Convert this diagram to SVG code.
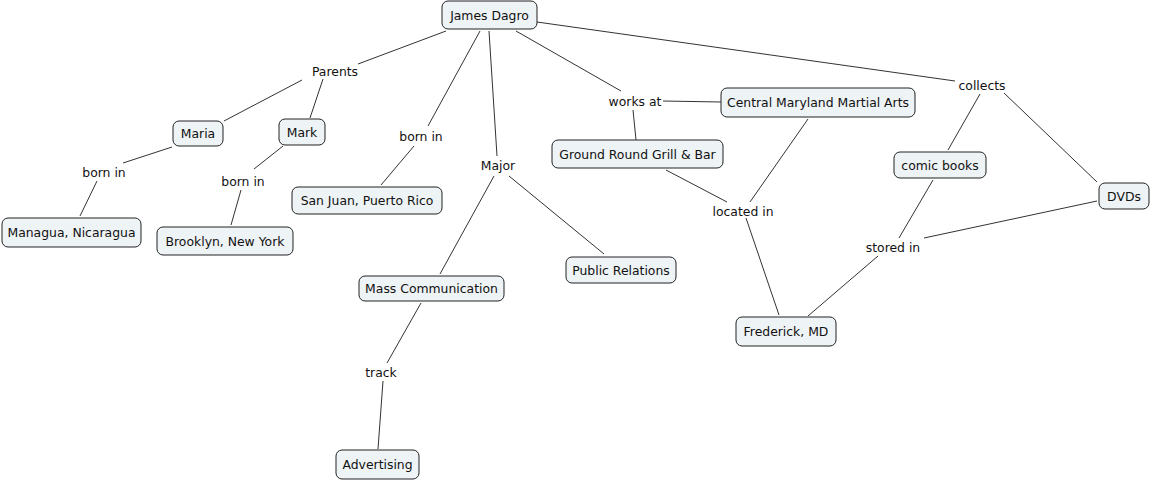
<svg xmlns="http://www.w3.org/2000/svg" width="1151" height="481" viewBox="0 0 1151 481">
<style>
.n rect{fill:#eef3f5;stroke:#222;stroke-width:1}
text{font-family:"DejaVu Sans",Verdana,sans-serif;font-size:12.4px;fill:#111;text-anchor:middle;dominant-baseline:central}
.c line{stroke:#333;stroke-width:1}
</style>
<rect width="1151" height="481" fill="#fff"/>
<g class="c">
<line x1="446" y1="31" x2="358" y2="64"/>
<line x1="302" y1="80" x2="224" y2="121"/>
<line x1="323" y1="79" x2="310" y2="118"/>
<line x1="172" y1="147" x2="123" y2="163"/>
<line x1="97" y1="181" x2="80" y2="216"/>
<line x1="283" y1="146" x2="254" y2="169"/>
<line x1="241" y1="190" x2="231" y2="225"/>
<line x1="480" y1="31" x2="428" y2="126"/>
<line x1="414" y1="146" x2="381" y2="185"/>
<line x1="489" y1="31" x2="497" y2="156"/>
<line x1="494" y1="176" x2="440" y2="274"/>
<line x1="509" y1="176" x2="604" y2="254"/>
<line x1="516" y1="31" x2="621" y2="91"/>
<line x1="633" y1="110" x2="636" y2="140"/>
<line x1="721" y1="102" x2="663" y2="101"/>
<line x1="666" y1="170" x2="727" y2="202"/>
<line x1="808" y1="119" x2="750" y2="202"/>
<line x1="746" y1="218" x2="779" y2="315"/>
<line x1="537" y1="22" x2="955" y2="81"/>
<line x1="980" y1="94" x2="948" y2="150"/>
<line x1="1004" y1="93" x2="1097" y2="182"/>
<line x1="933" y1="180" x2="899" y2="238"/>
<line x1="1097" y1="201" x2="924" y2="238"/>
<line x1="878" y1="256" x2="808" y2="316"/>
<line x1="421" y1="303" x2="387" y2="363"/>
<line x1="383" y1="381" x2="378" y2="449"/>
</g>
<g id="labels">
<text x="335" y="71">Parents</text>
<text x="104" y="172">born in</text>
<text x="243" y="181">born in</text>
<text x="421" y="136">born in</text>
<text x="498" y="165">Major</text>
<text x="635" y="101">works at</text>
<text x="743" y="211">located in</text>
<text x="982" y="85">collects</text>
<text x="893" y="247">stored in</text>
<text x="381" y="372">track</text>
</g>
<g id="james" class="n"><rect x="442" y="1" width="95" height="28" rx="6"/><text x="489.5" y="15">James Dagro</text></g>
<g id="maria" class="n"><rect x="173" y="121" width="50" height="25" rx="6"/><text x="198" y="133.5">Maria</text></g>
<g id="mark" class="n"><rect x="279" y="119" width="46" height="26" rx="6"/><text x="302" y="132">Mark</text></g>
<g id="managua" class="n"><rect x="2" y="218" width="139" height="29" rx="6"/><text x="71.5" y="232.5">Managua, Nicaragua</text></g>
<g id="brooklyn" class="n"><rect x="157" y="227" width="136" height="28" rx="6"/><text x="225" y="241">Brooklyn, New York</text></g>
<g id="sanjuan" class="n"><rect x="292" y="187" width="150" height="27" rx="6"/><text x="367" y="200.5">San Juan, Puerto Rico</text></g>
<g id="masscomm" class="n"><rect x="359" y="276" width="145" height="25" rx="6"/><text x="431.5" y="288.5">Mass Communication</text></g>
<g id="pr" class="n"><rect x="566" y="257" width="110" height="26" rx="6"/><text x="621" y="270">Public Relations</text></g>
<g id="advertising" class="n"><rect x="336" y="450" width="83" height="29" rx="6"/><text x="377.5" y="464.5">Advertising</text></g>
<g id="groundround" class="n"><rect x="552" y="140" width="171" height="28" rx="6"/><text x="637.5" y="154">Ground Round Grill &amp; Bar</text></g>
<g id="cmma" class="n"><rect x="721" y="88" width="194" height="29" rx="6"/><text x="818" y="102.5">Central Maryland Martial Arts</text></g>
<g id="frederick" class="n"><rect x="736" y="317" width="100" height="29" rx="6"/><text x="786" y="331.5">Frederick, MD</text></g>
<g id="comics" class="n"><rect x="894" y="152" width="92" height="26" rx="6"/><text x="940" y="165">comic books</text></g>
<g id="dvds" class="n"><rect x="1099" y="183" width="50" height="26" rx="6"/><text x="1124" y="196">DVDs</text></g>
</svg>
